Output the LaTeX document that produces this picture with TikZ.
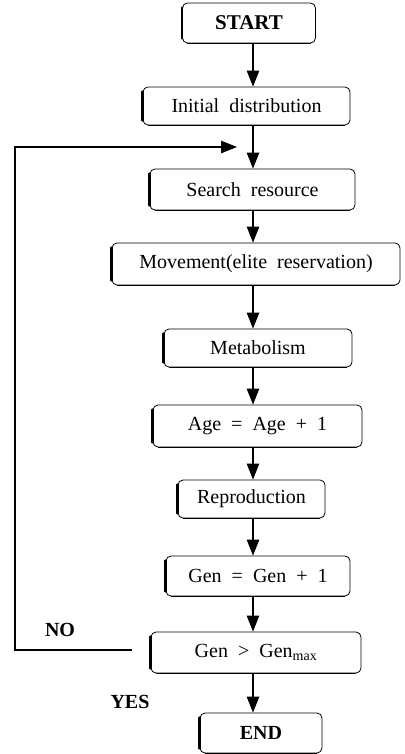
\documentclass[tikz,border=0pt]{standalone}
\usepackage{fontspec}
\setmainfont{Liberation Serif}
\usetikzlibrary{arrows.meta}
\tikzset{
  box/.style={draw, rounded corners=5pt, line width=0.8pt, inner sep=0pt,
    font=\fontsize{20}{22}\selectfont},
  arr/.style={line width=1.1pt, -{Triangle[length=16pt,width=12.5pt]}},
  lbl/.style={font=\bfseries\fontsize{20}{22}\selectfont, inner sep=0pt},
  edge/.style={line width=2.6pt, line cap=round},
  bottomedge/.style={line width=1.5pt}
}
\newcommand{\wsp}{\hspace{0.5em}}
\begin{document}
\begin{tikzpicture}[x=1pt,y=-1pt]
\useasboundingbox (0,0) rectangle (404,754);
\node[box, minimum width=133pt, minimum height=40pt, font=\bfseries\fontsize{21}{23}\selectfont] (start) at (249,23) {START};
\node[box, minimum width=207pt, minimum height=38pt] (init) at (246.5,106) {Initial\wsp distribution};
\node[box, minimum width=205pt, minimum height=41pt] (search) at (252.5,189.5) {Search\wsp resource};
\node[box, minimum width=288pt, minimum height=42pt] (move) at (256,264) {Movement(elite\wsp reservation)};
\node[box, minimum width=188pt, minimum height=38pt] (metab) at (258,348) {Metabolism};
\node[box, minimum width=209pt, minimum height=42pt] (age) at (257.5,426) {Age\wsp=\wsp Age\wsp+\wsp 1};
\node[box, minimum width=147pt, minimum height=38pt] (repro) at (251.5,499) {Reproduction};
\node[box, minimum width=184pt, minimum height=40pt] (gen) at (258,576) {Gen\wsp=\wsp Gen\wsp+\wsp 1};
\node[box, minimum width=210pt, minimum height=41pt] (gmax) at (256,652.5) {Gen\wsp>\wsp Gen\textsubscript{max}};
\node[box, minimum width=122pt, minimum height=40pt, font=\bfseries\fontsize{20}{22}\selectfont] (end) at (261,733) {END};
\foreach \n in {start,init,search,move,metab,age,repro,gen,gmax,end}{
  \draw[edge] ([yshift=-5pt]\n.north west) -- ([yshift=5pt]\n.south west);
  \draw[bottomedge] ([xshift=5pt]\n.south west) -- ([xshift=-5pt]\n.south east);
}
\node[lbl] (no) at (60,630) {NO};
\node[lbl] (yes) at (130,702) {YES};
\coordinate (ax) at (253,0);
\draw[arr] (start.south -| ax) -- (init.north -| ax);
\draw[arr] (init.south -| ax) -- (search.north -| ax);
\draw[arr] (search.south -| ax) -- (move.north -| ax);
\draw[arr] (move.south -| ax) -- (metab.north -| ax);
\draw[arr] (metab.south -| ax) -- (age.north -| ax);
\draw[arr] (age.south -| ax) -- (repro.north -| ax);
\draw[arr] (repro.south -| ax) -- (gen.north -| ax);
\draw[arr] (gen.south -| ax) -- (gmax.north -| ax);
\draw[arr] (gmax.south -| ax) -- (end.north -| ax);
\coordinate (noend) at (132,650);
\coordinate (ll) at (15,650);
\coordinate (lu) at (15,147);
\coordinate (lt) at (237,147);
\draw[arr] (noend) -- (ll) -- (lu) -- (lt);
\end{tikzpicture}
\end{document}
